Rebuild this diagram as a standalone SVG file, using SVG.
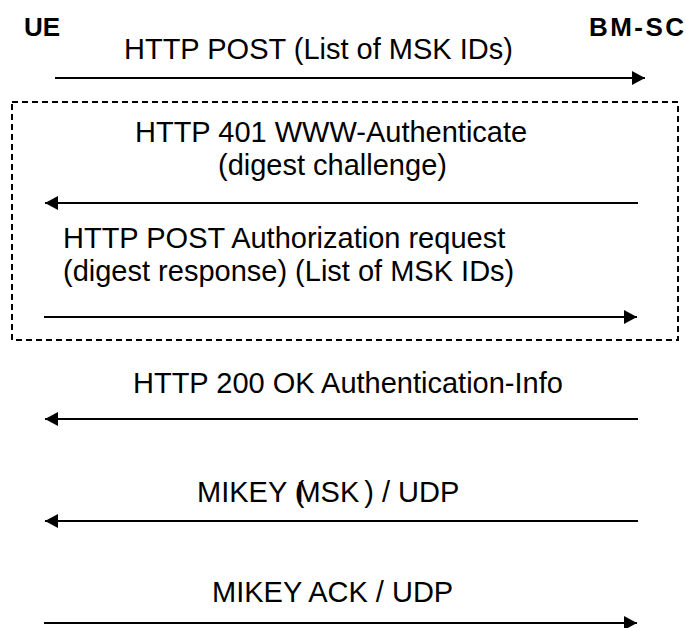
<svg xmlns="http://www.w3.org/2000/svg" width="686" height="628" viewBox="0 0 686 628">
<style>
.t{font-family:"Liberation Sans",Arial,sans-serif;font-size:29px;fill:#000}
.b{font-family:"Liberation Sans",Arial,sans-serif;font-size:26px;font-weight:bold;fill:#000}
.ln{stroke:#000;stroke-width:2;fill:none}
.box{stroke:#000;stroke-width:2;fill:none;stroke-dasharray:6 4}
</style>
<defs>
<marker id="ah" markerWidth="13" markerHeight="14" refX="13" refY="7" orient="auto" markerUnits="userSpaceOnUse">
<path d="M0,0 L13,7 L0,14 Z" fill="#000"/>
</marker>
</defs>
<rect width="686" height="628" fill="#fff"/>
<g id="ue"><text class="b" x="24" y="36">UE</text></g>
<g id="bmsc"><text class="b" x="589" y="36" textLength="95" lengthAdjust="spacing">BM-SC</text></g>
<g id="auth-box"><rect class="box" x="12" y="102" width="666" height="238"/></g>
<g id="labels">
<text class="t" x="124" y="59">HTTP POST (List of MSK IDs)</text>
<text class="t" x="135" y="142">HTTP 401 WWW-Authenticate</text>
<text class="t" x="218" y="175">(digest challenge)</text>
<text class="t" x="63" y="248">HTTP POST Authorization request</text>
<text class="t" x="63" y="281">(digest response) (List of MSK IDs)</text>
<text class="t" x="133" y="393">HTTP 200 OK Authentication-Info</text>
<text class="t" x="197" y="502">MIKEY (<tspan dx="-8">MSK</tspan><tspan dx="5">) / UDP</tspan></text>
<text class="t" x="212" y="602">MIKEY ACK / UDP</text>
</g>
<g id="connectors">
<line class="ln" x1="55" y1="78" x2="645" y2="78" marker-end="url(#ah)"/>
<line class="ln" x1="638" y1="203" x2="45" y2="203" marker-end="url(#ah)"/>
<line class="ln" x1="44" y1="317" x2="637" y2="317" marker-end="url(#ah)"/>
<line class="ln" x1="638" y1="419" x2="45" y2="419" marker-end="url(#ah)"/>
<line class="ln" x1="638" y1="521" x2="45" y2="521" marker-end="url(#ah)"/>
<line class="ln" x1="44" y1="623" x2="637" y2="623" marker-end="url(#ah)"/>
</g>
</svg>
